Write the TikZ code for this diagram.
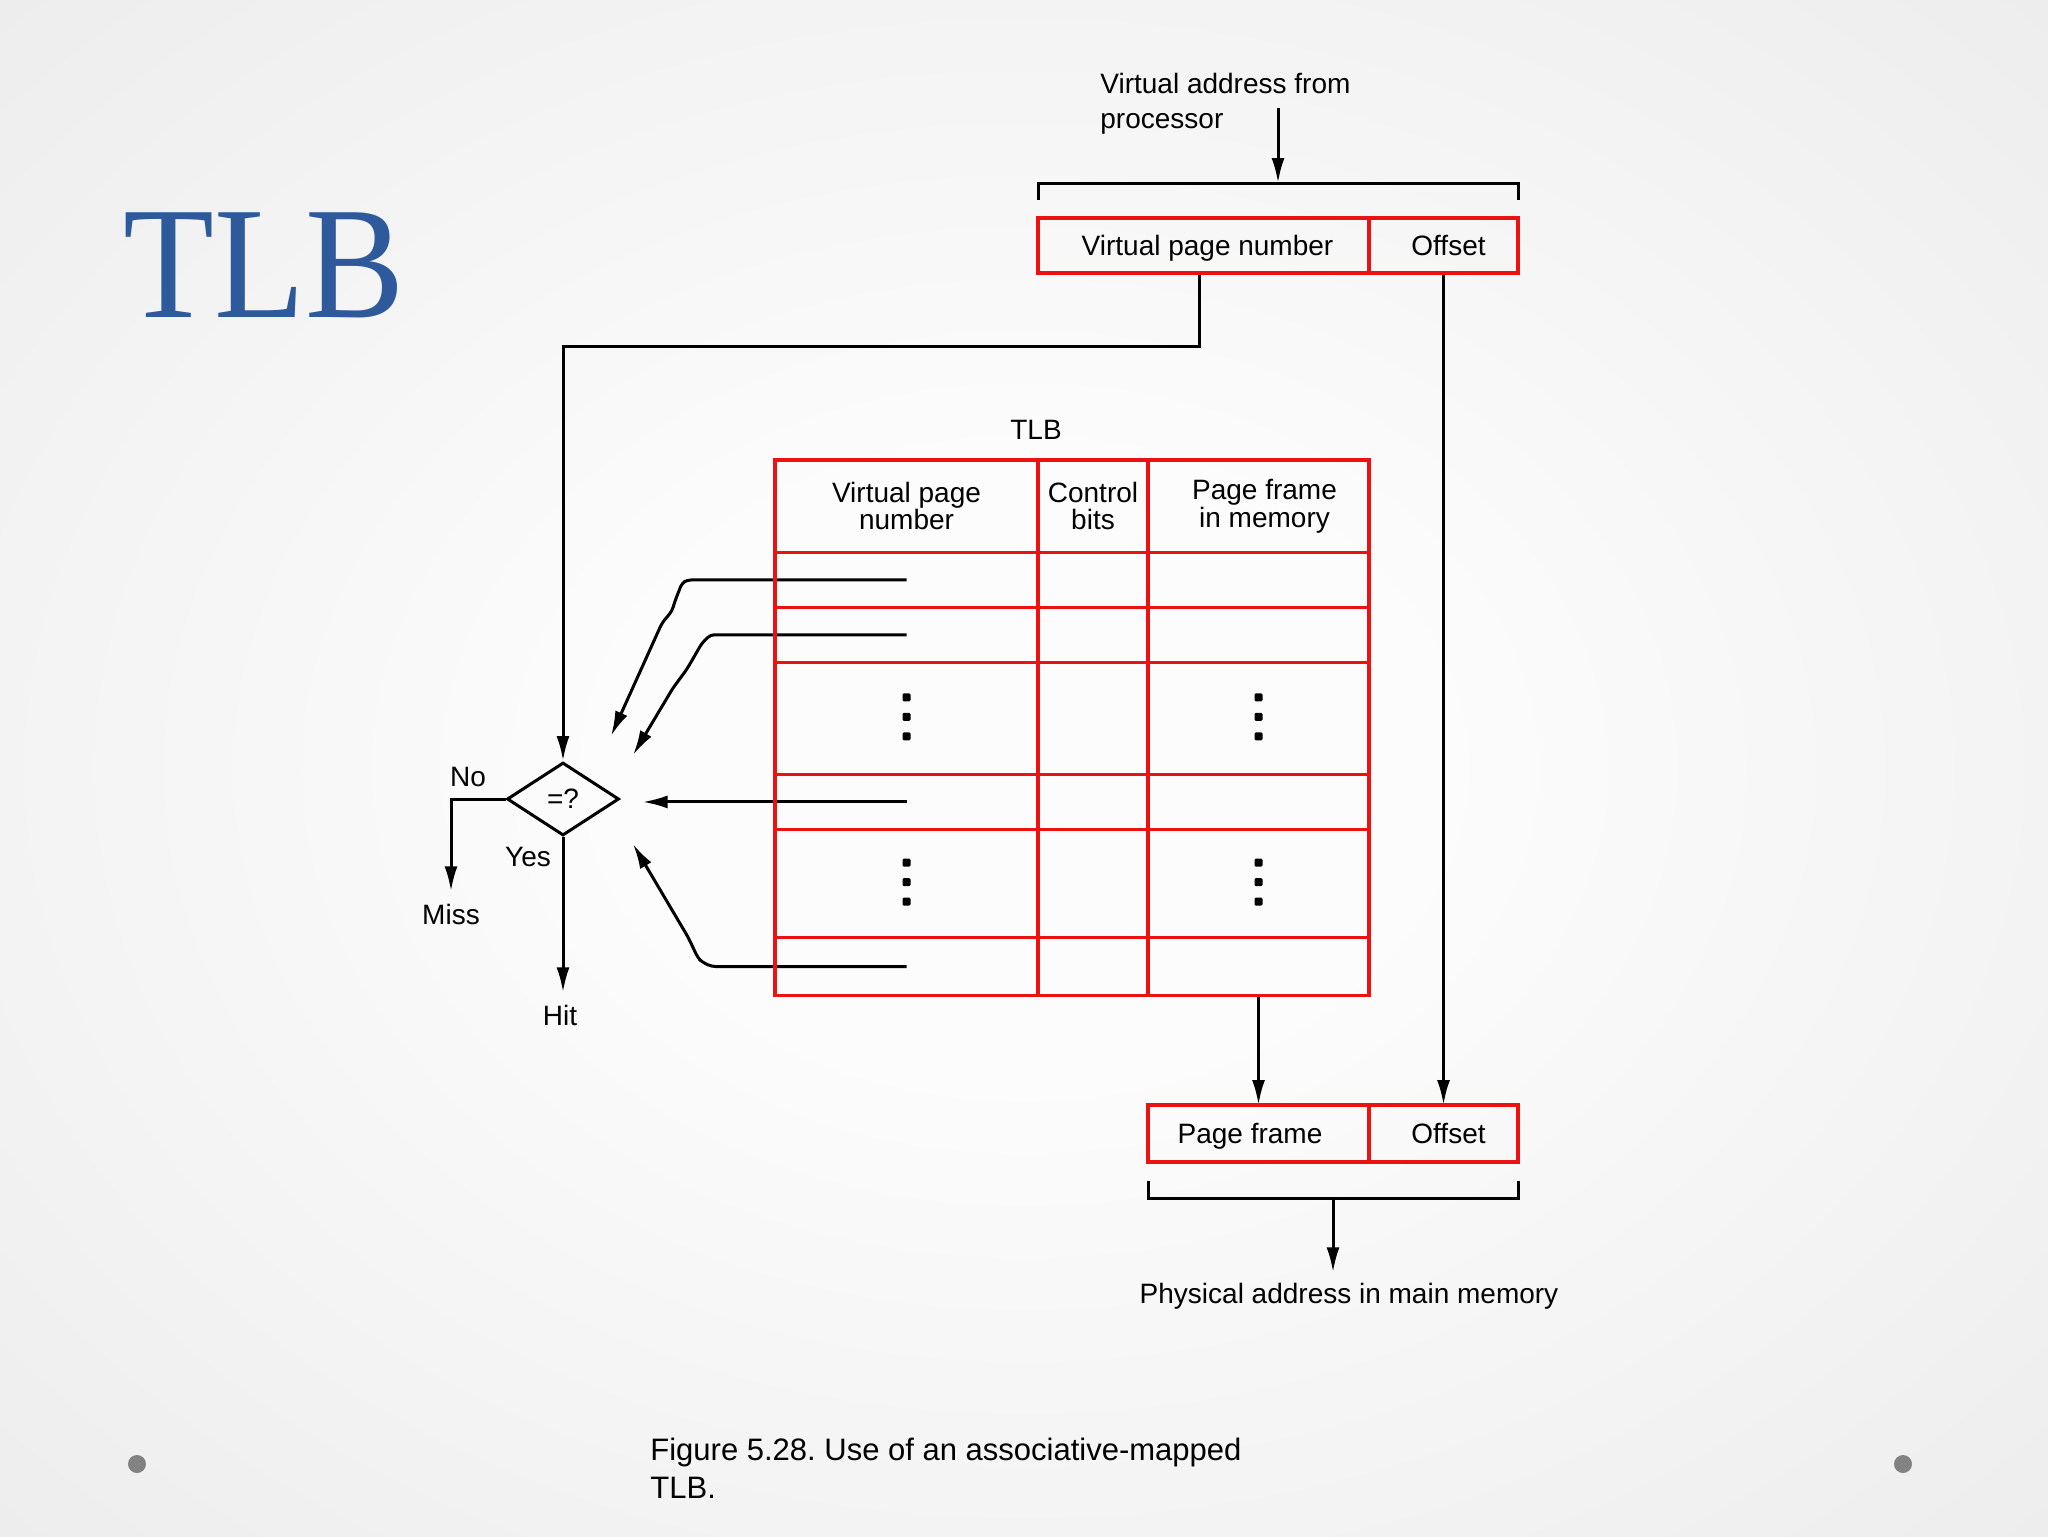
\documentclass[tikz,border=0pt]{standalone}
\usepackage{fontspec}
\usepackage{graphicx}
\setmainfont{Liberation Sans}
\newfontfamily\titlefont{Liberation Serif}
\usetikzlibrary{arrows.meta,shapes.geometric,calc}

\definecolor{tlbred}{RGB}{236,18,18}
\definecolor{titleblue}{RGB}{46,90,156}
\definecolor{bgout}{RGB}{216,216,216}
\definecolor{bgin}{RGB}{252,252,252}
\definecolor{dotgray}{RGB}{130,130,130}

\pgfdeclareradialshading{bgshade}{\pgfpoint{0bp}{0bp}}{color(0bp)=(bgin); color(10bp)=(bgin); color(71bp)=(bgout)}

\pgfdeclarelayer{bglayer}
\pgfdeclarelayer{connlayer}
\pgfsetlayers{bglayer,connlayer,main}

\tikzset{
  lbl/.style={font=\fontsize{14}{13.7}\selectfont, inner sep=0pt, align=center, text=black},
  cell/.style={draw=tlbred, line width=1.6pt, inner sep=0pt, outer sep=0pt, shape=rectangle, font=\fontsize{14}{13.7}\selectfont, text height=10.1pt, text depth=0pt},
  conn/.style={draw=black, line width=1.5pt},
  arr/.style={conn, -{Latex[length=12.5pt,width=6.5pt]}},
  cmpbox/.style={shape=diamond, draw=black, line width=1.5pt, inner sep=0pt, minimum width=56pt, minimum height=36.5pt, font=\fontsize{14}{14}\selectfont},
}

\begin{document}
\frenchspacing
\begin{tikzpicture}[x=0.5pt, y=-0.5pt]
\begin{pgfonlayer}{bglayer}
  \shade[shading=bgshade] (0,0) rectangle (2048,1536);
\end{pgfonlayer}
\useasboundingbox (0,0) rectangle (2048,1536);

% slide title
\node[anchor=base west, inner sep=0pt, text=titleblue, font=\titlefont\fontsize{80}{80}\selectfont] (title) at (123,317) {\scalebox{0.93}[1]{TLB}};

% slide bullets
\fill[dotgray] (137,1464) circle (9);
\fill[dotgray] (1903,1464) circle (9);

% virtual address
\node[lbl, align=left, anchor=north west, font=\fontsize{14}{17.5}\selectfont] (va) at (1100,72.6) {Virtual address from\\processor};
\node[cell, minimum width=165.5pt, minimum height=27.5pt] (vpn) at (1203.5,245.5) {\hspace*{4pt}Virtual page number};
\node[cell, minimum width=74.5pt, minimum height=27.5pt] (off) at (1443.5,245.5) {\hspace*{5pt}Offset};

% TLB table cells
\foreach \r/\ya/\yb in {0/460/552.5, 1/552.5/607.3, 2/607.3/662.2, 3/662.2/774.5, 4/774.5/829.4, 5/829.4/937.8, 6/937.8/995.2} {
  \foreach \c/\xa/\xb in {1/775/1038, 2/1038/1148, 3/1148/1369} {
    \node[cell, minimum width={(\xb-\xa)*0.5pt}, minimum height={(\yb-\ya)*0.5pt}] (t\r\c) at ({(\xa+\xb)/2},{(\ya+\yb)/2}) {};
  }
}
\node[lbl] (h1) at (t01) {Virtual page\\number};
\node[lbl] (h2) at (t02) {Control\\bits};
\node[lbl] (h3) at ([xshift=3pt]t03.center) {Page frame\\in memory};
\node[lbl] (tlbl) at (1036,430) {TLB};

\foreach \cl in {t31,t33,t51,t53}
  \foreach \d in {-21,-1.5,18}
    \fill[black, rounded corners=0.6pt] ([shift={(-4,\d-4)}]\cl.center) rectangle ++(8,8);

% comparator
\node[cmpbox] (cmp) at (563,799) {=?};
\node[lbl] (no) at (468,777) {No};
\node[lbl] (yes) at (528,857) {Yes};
\node[lbl] (miss) at (451,914) {Miss};
\node[lbl] (hit) at (560,1015) {Hit};

% physical address
\node[cell, minimum width=110.5pt, minimum height=28.5pt] (pf) at (1258.5,1133.5) {Page frame\hspace*{8.5pt}};
\node[cell, minimum width=74.5pt, minimum height=28.5pt] (po) at (1443.5,1133.5) {\hspace*{5pt}Offset};
\node[lbl, anchor=base] (phys) at (1349,1303) {Physical address in main memory};

% caption
\node[lbl, align=left, anchor=north west, font=\fontsize{15.5}{19}\selectfont] (cap) at (650,1437.5) {Figure 5.28. Use of an associative-mapped\\TLB.};

% coordinates
\coordinate (brC) at ($(vpn.north west)!0.5!(off.north east)+(0,-35)$);
\coordinate (vaS) at ($(brC)+(0,-75)$);
\coordinate (bbot) at ($(pf.south west)!0.5!(po.south east)+(0,36)$);

\begin{pgfonlayer}{connlayer}
  % brackets
  \draw[conn] ($(vpn.north west)+(0,-18)$) -- ++(0,-17) -| ($(off.north east)+(0,-18)$);
  \draw[conn] ($(pf.south west)+(0,19)$) -- ++(0,17) -| ($(po.south east)+(0,19)$);
  \draw[arr] (vaS) -- (brC);
  \draw[arr, shorten >=5pt] (bbot) -- (bbot |- phys.north);
  % address paths
  \draw[arr] ([xshift=-2pt]vpn.south) -- ++(0,73) -| (cmp.north);
  \draw[arr] (off.south) -- (po.north);
  \draw[arr] (t63.south) -- (pf.north);
  % comparisons
  \draw[arr, rounded corners=2pt] (t11.center) -- ++(-219,0) -- (682,583) -- (675,601) -- (672,611) -- (662,623) -- (611,736);
  \draw[arr, rounded corners=2pt] (t21.center) -- ++(-196,0) -- (702,643) -- (687,669) -- (673,688) -- (633,755);
  \draw[arr, shorten >=11pt] (t41.center) -- (t41.center -| cmp.east);
  \draw[arr, rounded corners=2pt] (t61.center) -- ++(-195,0) -- (702,962) -- (698,958) -- (688,937) -- (633,844);
  % outcomes
  \draw[arr, shorten >=6pt] (cmp.west) -| (miss.north);
  \draw[arr, shorten >=6pt] (cmp.south) -- (cmp.south |- hit.north);
\end{pgfonlayer}
\end{tikzpicture}
\end{document}
